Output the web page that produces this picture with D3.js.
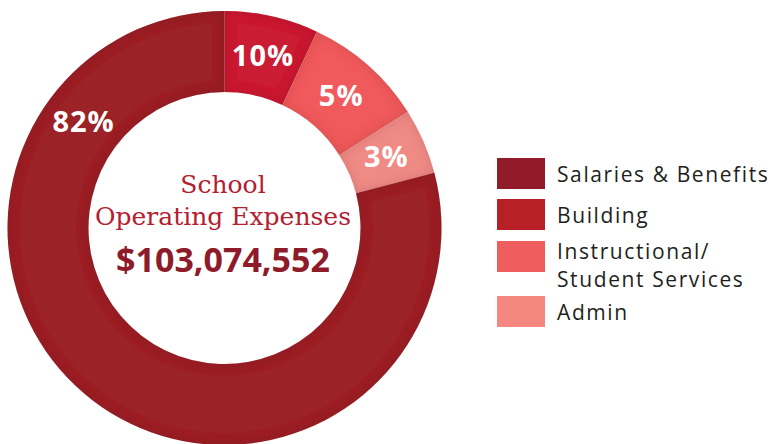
<!DOCTYPE html>
<html lang="en">
<script src="https://d3js.org/d3.v7.min.js"></script>
<style>
    body {margin: 0; background: #fff;}
    .pct {fill: #fff; font-family: "Open Sans", sans-serif; font-weight: 700; font-size: 29px; letter-spacing: 1px; text-anchor: middle;}
    .legend text {fill: #231f20; font-family: "Open Sans", sans-serif; font-size: 21px; letter-spacing: 1.6px;}
</style>
<body>
    <svg width="774" height="444"></svg>
</body>
<script>
    // legend order
    var categories = ["Salaries & Benefits", "Building", "Instructional/\nStudent Services", "Admin"];
    var percentLabels = ["82%", "10%", "5%", "3%"];
    // share of the ring each slice takes in the picture (the drawing is not to scale)
    var sliceShares = [79.1, 7.0, 9.0, 4.9];
    var legendColors = ["#921b29", "#b82028", "#f05d5e", "#f4877f"];
    var sliceColors = ["#9b2228", "#ca1f31", "#f05a5c", "#f08a85"];
    var drawOrder = [1, 2, 3, 0]; // clockwise from 12 o'clock
    var title = ["School", "Operating Expenses"];
    var total = "$103,074,552";

    var svg = d3.select("svg");
    var cx = 224.5, cy = 228, outerR = 217, innerR = 136;

    var defs = svg.append("defs");
    var f = defs.append("filter").attr("id", "inner").attr("x", "-20%").attr("y", "-20%").attr("width", "140%").attr("height", "140%");
    f.append("feComponentTransfer").attr("in", "SourceAlpha").attr("result", "inv")
        .append("feFuncA").attr("type", "table").attr("tableValues", "1 0");
    f.append("feGaussianBlur").attr("in", "inv").attr("stdDeviation", 6).attr("result", "blur");
    f.append("feFlood").attr("flood-color", "#000").attr("flood-opacity", 0.25).attr("result", "col");
    f.append("feComposite").attr("in", "col").attr("in2", "blur").attr("operator", "in").attr("result", "sh");
    f.append("feComposite").attr("in", "sh").attr("in2", "SourceAlpha").attr("operator", "in").attr("result", "sh2");
    var m = f.append("feMerge");
    m.append("feMergeNode").attr("in", "SourceGraphic");
    m.append("feMergeNode").attr("in", "sh2");

    var pieData = drawOrder.map(function(i){ return {i: i, v: sliceShares[i]}; });
    var pie = d3.pie().sort(null).value(function(d){ return d.v; });
    var arc = d3.arc().innerRadius(innerR).outerRadius(outerR);
    var arcs = pie(pieData);

    var g = svg.append("g").attr("transform", "translate(" + cx + "," + cy + ")");
    g.selectAll("path.slice").data(arcs).enter().append("path")
        .attr("class", "slice")
        .attr("d", arc)
        .attr("fill", function(d){ return sliceColors[d.data.i]; })
        .attr("filter", "url(#inner)");

    // big slice label sits up-left rather than at its centroid
    function labelAngle(d){
        return d.data.i === 0 ? d.endAngle - 0.925 : (d.startAngle + d.endAngle) / 2;
    }
    var midR = (innerR + outerR) / 2;
    g.selectAll("text.pct").data(arcs).enter().append("text")
        .attr("class", "pct")
        .attr("x", function(d){ return Math.sin(labelAngle(d)) * midR; })
        .attr("y", function(d){ return -Math.cos(labelAngle(d)) * midR + 10; })
        .text(function(d){ return percentLabels[d.data.i]; });

    // centre text
    svg.append("text").attr("x", 223).attr("y", 193).attr("text-anchor", "middle")
        .attr("fill", "#b3202f").style("font-family", "'DejaVu Serif', serif").style("font-size", "25px")
        .text(title[0]);
    svg.append("text").attr("x", 223).attr("y", 225).attr("text-anchor", "middle")
        .attr("fill", "#b3202f").style("font-family", "'DejaVu Serif', serif").style("font-size", "25px")
        .text(title[1]);
    svg.append("text").attr("x", 223).attr("y", 272).attr("text-anchor", "middle")
        .attr("fill", "#8e1b2a").style("font-family", "'Open Sans', sans-serif").style("font-weight", 700).style("font-size", "34px")
        .text(total);

    // legend
    var boxY = [158, 199, 241, 296];
    var leg = svg.append("g").attr("class", "legend");
    var item = leg.selectAll("g").data(categories).enter().append("g")
        .attr("transform", function(d, i){ return "translate(497," + boxY[i] + ")"; });
    item.append("rect").attr("width", 48).attr("height", 31).attr("fill", function(d, i){ return legendColors[i]; });
    item.append("text").attr("x", 60).attr("y", function(d){ return d.indexOf("\n") >= 0 ? 17.5 : 24; })
        .selectAll("tspan").data(function(d){ return d.split("\n"); }).enter().append("tspan")
        .attr("x", 60).attr("dy", function(d, i){ return i ? 28.8 : 0; })
        .text(function(d){ return d; });
</script>
</html>
